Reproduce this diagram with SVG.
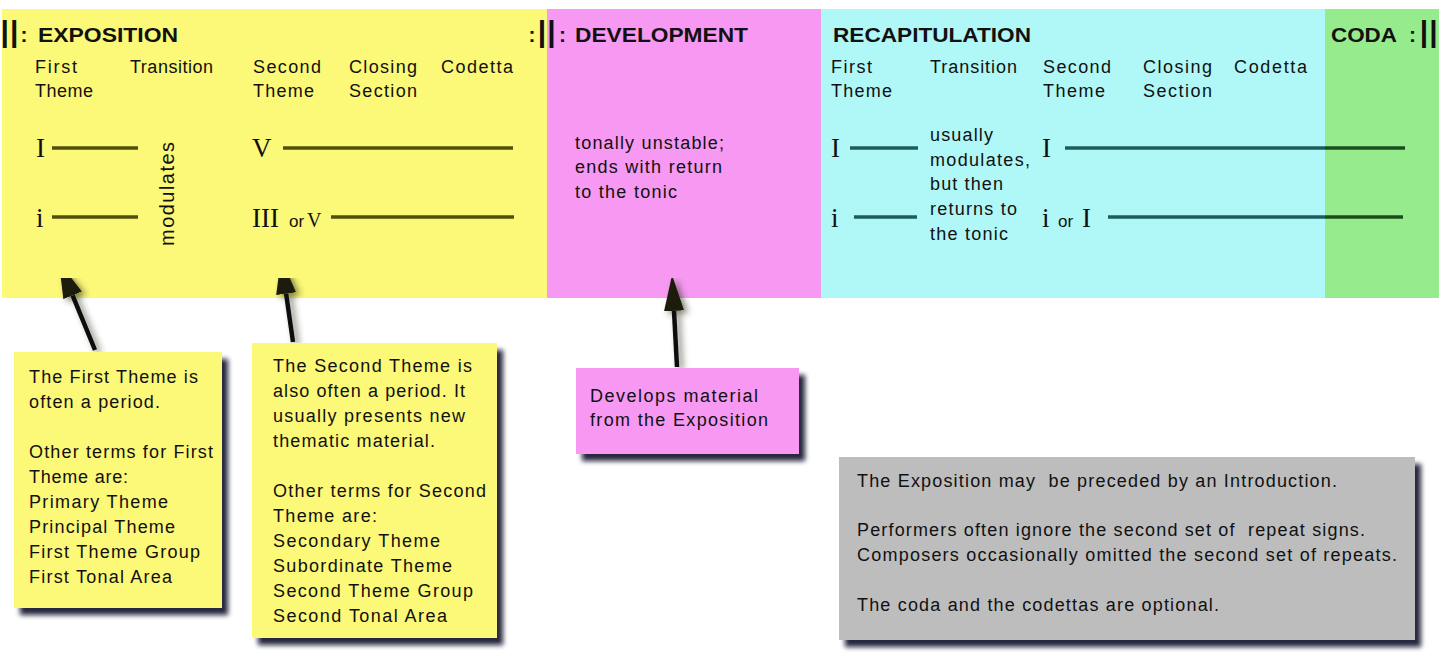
<svg xmlns="http://www.w3.org/2000/svg" width="1443" height="664" viewBox="0 0 1443 664">
<style>
text{font-family:"Liberation Sans",Arial,sans-serif;fill:#111}
.hd{font-size:21px;font-weight:bold}
.bar{font-size:30px;font-weight:bold;letter-spacing:1px}
.col{font-size:21px;font-weight:bold}
.sub{font-size:18px}
.mod{font-size:20px}
.rn{font-family:"Liberation Serif","Times New Roman",serif;font-size:27px}
.rs{font-family:"Liberation Serif","Times New Roman",serif;font-size:20px}
.or{font-size:17px}
.bx{font-size:18px}
.ol{stroke:#50500e;stroke-width:3.5}
.tl{stroke:#1e5c5c;stroke-width:3.5}
.gl{stroke:#1c4c1c;stroke-width:3.5}
.arr{stroke:#111;stroke-width:4.5;fill:none;marker-end:url(#ah)}
</style>
<defs>
<filter id="sh" x="-10%" y="-10%" width="130%" height="130%">
<feDropShadow dx="6" dy="7" stdDeviation="2.5" flood-color="#101028" flood-opacity="0.9"/>
</filter>
<filter id="ash" x="-50%" y="-20%" width="200%" height="150%">
<feDropShadow dx="4" dy="3" stdDeviation="3" flood-color="#303020" flood-opacity="0.6"/>
</filter>
<marker id="ah" markerUnits="userSpaceOnUse" viewBox="0 0 36 20" refX="0" refY="10" markerWidth="36" markerHeight="20" orient="auto">
<path d="M0,0 L36,10 L0,20 z" fill="#1a1a10"/>
</marker>
</defs>
<rect width="1443" height="664" fill="#fff"/>

<g id="exposition">
<rect x="2" y="9" width="545" height="289" fill="#fcf878"/>
<text class="bar" x="0.5" y="42">||</text>
<text class="col" x="20.5" y="42">:</text>
<text class="hd" x="38" y="42" textLength="140" lengthAdjust="spacingAndGlyphs">EXPOSITION</text>
<text class="sub" x="35" y="73" textLength="42">First</text>
<text class="sub" x="35" y="97" textLength="58">Theme</text>
<text class="sub" x="130" y="73" textLength="83">Transition</text>
<text class="sub" x="253" y="73" textLength="68">Second</text>
<text class="sub" x="253" y="97" textLength="61">Theme</text>
<text class="sub" x="349" y="73" textLength="68">Closing</text>
<text class="sub" x="349" y="97" textLength="68">Section</text>
<text class="sub" x="441" y="73" textLength="72">Codetta</text>
<text class="rn" x="36" y="157">I</text>
<text class="rn" x="36" y="227">i</text>
<line class="ol" x1="52" y1="148" x2="138" y2="148"/>
<line class="ol" x1="52" y1="217" x2="138" y2="217"/>
<text class="mod" transform="translate(174,194) rotate(-90)" text-anchor="middle" textLength="104">modulates</text>
<text class="rn" x="252" y="157">V</text>
<line class="ol" x1="283" y1="148" x2="513" y2="148"/>
<text class="rn" x="252" y="227">III</text>
<text class="or" x="289" y="227">or</text>
<text class="rs" x="307" y="227">V</text>
<line class="ol" x1="331" y1="217" x2="514" y2="217"/>
<text class="col" x="528.5" y="42">:</text>
</g>

<g id="development">
<rect x="547" y="9" width="274" height="289" fill="#f799f2"/>
<text class="bar" x="537.8" y="42">||</text>
<text class="col" x="559" y="42">:</text>
<text class="hd" x="575" y="42" textLength="173" lengthAdjust="spacingAndGlyphs">DEVELOPMENT</text>
<text class="sub" x="575" y="149" textLength="149">tonally unstable;</text>
<text class="sub" x="575" y="173" textLength="147">ends with return</text>
<text class="sub" x="575" y="198" textLength="102">to the tonic</text>
</g>

<g id="recapitulation">
<rect x="821" y="9" width="504" height="289" fill="#b0f7f7"/>
<text class="hd" x="833" y="42" textLength="198" lengthAdjust="spacingAndGlyphs">RECAPITULATION</text>
<text class="sub" x="831" y="73" textLength="41">First</text>
<text class="sub" x="831" y="97" textLength="61">Theme</text>
<text class="sub" x="930" y="73" textLength="87">Transition</text>
<text class="sub" x="1043" y="73" textLength="68">Second</text>
<text class="sub" x="1043" y="97" textLength="62">Theme</text>
<text class="sub" x="1143" y="73" textLength="69">Closing</text>
<text class="sub" x="1143" y="97" textLength="69">Section</text>
<text class="sub" x="1234" y="73" textLength="73">Codetta</text>
<text class="rn" x="831" y="157">I</text>
<text class="rn" x="831" y="227">i</text>
<line class="tl" x1="850" y1="148" x2="918" y2="148"/>
<line class="tl" x1="854" y1="217" x2="917" y2="217"/>
<text class="sub" x="930" y="141" textLength="63">usually</text>
<text class="sub" x="930" y="166" textLength="100">modulates,</text>
<text class="sub" x="930" y="190" textLength="73">but then</text>
<text class="sub" x="930" y="215" textLength="87">returns to</text>
<text class="sub" x="930" y="240" textLength="78">the tonic</text>
<text class="rn" x="1042" y="157">I</text>
<text class="rn" x="1042" y="227">i</text>
<text class="or" x="1058" y="227">or</text>
<text class="rn" x="1082" y="227">I</text>
<line class="tl" x1="1065" y1="148" x2="1325" y2="148"/>
<line class="tl" x1="1108" y1="217" x2="1325" y2="217"/>
</g>

<g id="coda">
<rect x="1325" y="9" width="114" height="289" fill="#96ec8c"/>
<text class="hd" x="1331" y="42" textLength="66" lengthAdjust="spacingAndGlyphs">CODA</text>
<text class="col" x="1409" y="42">:</text>
<text class="bar" x="1419.8" y="42">||</text>
<line class="gl" x1="1325" y1="148" x2="1405" y2="148"/>
<line class="gl" x1="1325" y1="217" x2="1403" y2="217"/>
</g>

<g id="connectors" filter="url(#ash)">
<line class="arr" x1="95" y1="350" x2="72.6" y2="295.3"/>
<line class="arr" x1="293" y1="342" x2="286.1" y2="293.6"/>
<line class="arr" x1="677" y1="367" x2="674" y2="310.9"/>
</g>

<g id="note-first-theme">
<rect x="14" y="352" width="208" height="256" fill="#fcf878" filter="url(#sh)"/>
<text class="bx" x="29" y="383" textLength="169">The First Theme is</text>
<text class="bx" x="29" y="408" textLength="131">often a period.</text>
<text class="bx" x="29" y="458" textLength="184">Other terms for First</text>
<text class="bx" x="29" y="483" textLength="99">Theme are:</text>
<text class="bx" x="29" y="508" textLength="139">Primary Theme</text>
<text class="bx" x="29" y="533" textLength="146">Principal Theme</text>
<text class="bx" x="29" y="558" textLength="171">First Theme Group</text>
<text class="bx" x="29" y="583" textLength="143">First Tonal Area</text>
</g>

<g id="note-second-theme">
<rect x="252" y="343" width="245" height="295" fill="#fcf878" filter="url(#sh)"/>
<text class="bx" x="273" y="372" textLength="199">The Second Theme is</text>
<text class="bx" x="273" y="397" textLength="192">also often a period. It</text>
<text class="bx" x="273" y="422" textLength="192">usually presents new</text>
<text class="bx" x="273" y="447" textLength="162">thematic material.</text>
<text class="bx" x="273" y="497" textLength="213">Other terms for Second</text>
<text class="bx" x="273" y="522" textLength="104">Theme are:</text>
<text class="bx" x="273" y="547" textLength="167">Secondary Theme</text>
<text class="bx" x="273" y="572" textLength="179">Subordinate Theme</text>
<text class="bx" x="273" y="597" textLength="200">Second Theme Group</text>
<text class="bx" x="273" y="622" textLength="174">Second Tonal Area</text>
</g>

<g id="note-development">
<rect x="576" y="368" width="223" height="86" fill="#f799f2" filter="url(#sh)"/>
<text class="bx" x="590" y="402" textLength="168">Develops material</text>
<text class="bx" x="590" y="426" textLength="178">from the Exposition</text>
</g>

<g id="note-general">
<rect x="839" y="457" width="576" height="183" fill="#bdbdbd" filter="url(#sh)"/>
<text class="bx" x="857" y="487" textLength="480" xml:space="preserve">The Exposition may  be preceded by an Introduction.</text>
<text class="bx" x="857" y="536" textLength="508" xml:space="preserve">Performers often ignore the second set of  repeat signs.</text>
<text class="bx" x="857" y="561" textLength="540">Composers occasionally omitted the second set of repeats.</text>
<text class="bx" x="857" y="611" textLength="362">The coda and the codettas are optional.</text>
</g>
</svg>
